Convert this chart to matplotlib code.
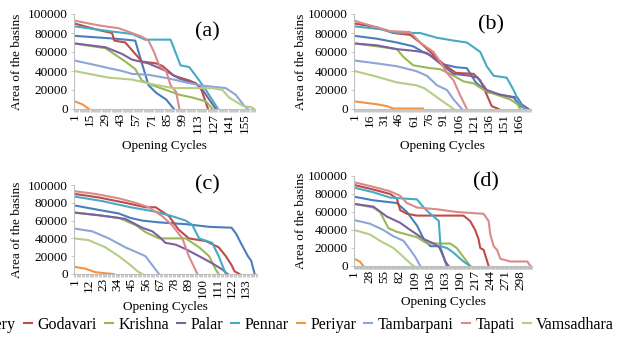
import matplotlib
matplotlib.use("Agg")
import matplotlib.pyplot as plt
from matplotlib.ticker import FixedLocator, NullFormatter

plt.rcParams['font.family'] = ['Liberation Serif', 'DejaVu Serif']

basins = ["Cauvery", "Godavari", "Krishna", "Palar", "Pennar", "Periyar",
          "Tambarpani", "Tapati", "Vamsadhara"]
colors = ["#4A7EBB", "#BE4B48", "#98B954", "#7D60A0", "#46AAC5", "#F69240",
          "#8EA5D8", "#DA8A89", "#B5CD86"]
y_ticks = [0, 20000, 40000, 60000, 80000, 100000]

# ---- panel (a) ----
a_n = 164
a_cycles = {
    "Cauvery": [1, 38, 56, 59, 68, 75, 84, 91],
    "Godavari": [1, 23, 35, 37, 47, 62, 75, 81, 91, 105, 111, 116, 122],
    "Krishna": [1, 29, 38, 47, 56, 62, 71.5, 84, 96, 108, 120, 126],
    "Palar": [1, 29, 44, 53, 68, 84, 96, 114, 123, 129],
    "Pennar": [1, 32, 53, 65, 88, 97, 105, 114, 120, 131],
    "Periyar": [1, 8, 14],
    "Tambarpani": [1, 17, 32, 44, 53, 68, 87, 102, 114, 138, 147, 155, 158],
    "Tapati": [1, 23, 41, 53, 62, 68, 73, 78, 84, 88, 93, 96],
    "Vamsadhara": [1, 14, 32, 53, 68, 81, 90, 126, 135, 141, 154, 161, 164],
}
a_area = {
    "Cauvery": [77000, 74000, 72000, 60000, 25000, 17000, 10000, 0],
    "Godavari": [90000, 83000, 80000, 72000, 70000, 50000, 48000, 45000, 35000, 30000, 27000, 20000, 0],
    "Krishna": [69000, 64000, 57000, 50000, 42000, 30000, 25000, 20000, 15000, 12000, 8000, 0],
    "Palar": [69000, 65000, 58000, 52000, 48000, 40000, 32000, 25000, 10000, 0],
    "Pennar": [87000, 82000, 79000, 73000, 73000, 46000, 44000, 30000, 20000, 0],
    "Periyar": [8000, 5000, 0],
    "Tambarpani": [51000, 47000, 43000, 40000, 37000, 36000, 32000, 28000, 25000, 22000, 15000, 3000, 0],
    "Tapati": [93000, 88000, 85000, 80000, 76000, 72000, 60000, 45000, 40000, 25000, 18000, 0],
    "Vamsadhara": [40000, 37000, 33000, 31000, 27000, 24000, 22000, 22000, 20000, 12000, 3000, 2000, 0],
}

# ---- panel (b) ----
b_n = 178
b_cycles = {
    "Cauvery": [1, 23.5, 43.6, 60, 70, 80.5, 90.6, 103, 114, 123, 134, 147.6, 161, 167.6, 174.5],
    "Godavari": [1, 23.5, 40, 57, 67, 80.5, 90.6, 103, 120.8, 127.5, 134, 139, 146],
    "Krishna": [1, 23.5, 43.6, 50, 60, 77, 87, 100.7, 110.7, 120.8, 131, 144, 157.7, 164.9, 167.6],
    "Palar": [1, 23.5, 43.6, 62.8, 73.8, 87, 100.7, 117, 124.8, 134, 147.6, 164.9, 169, 176],
    "Pennar": [1, 26.8, 43.6, 67, 83.9, 100.7, 114, 120.8, 127.5, 134, 140.9, 154, 161, 167.6, 172.8],
    "Periyar": [1, 23.5, 33.6, 40, 70],
    "Tambarpani": [1, 23.5, 43.6, 62.8, 73.8, 83.9, 94, 100.7, 109],
    "Tapati": [1, 10, 23.5, 36.9, 57, 67, 80.5, 87, 94, 100.7, 107, 114],
    "Vamsadhara": [1, 20, 43.6, 62.8, 71, 80.5, 87, 94, 100.7],
}
b_area = {
    "Cauvery": [77000, 74000, 70000, 66000, 60000, 55000, 47000, 44000, 43000, 28000, 18000, 15000, 12000, 3000, 0],
    "Godavari": [90000, 86000, 80000, 78000, 70000, 57000, 47000, 38000, 37000, 30000, 15000, 3000, 0],
    "Krishna": [69000, 66000, 63000, 55000, 46000, 43000, 42000, 35000, 29000, 27000, 20000, 15000, 10000, 5000, 0],
    "Palar": [69000, 67000, 63000, 61000, 59000, 48000, 37000, 35000, 33000, 20000, 15000, 12000, 5000, 0],
    "Pennar": [87000, 84000, 80000, 80000, 75000, 72000, 70000, 65000, 60000, 45000, 35000, 33000, 20000, 5000, 0],
    "Periyar": [8000, 5000, 3000, 500, 500],
    "Tambarpani": [51000, 48000, 45000, 40000, 35000, 25000, 20000, 10000, 0],
    "Tapati": [93000, 90000, 86000, 82000, 81000, 70000, 60000, 50000, 38000, 30000, 15000, 0],
    "Vamsadhara": [40000, 35000, 28000, 25000, 22000, 15000, 10000, 5000, 0],
}

# ---- panel (c) ----
c_n = 141
c_cycles = {
    "Cauvery": [1, 19.6, 35, 44, 53, 66, 86.6, 104.6, 121.9, 125.5, 129, 134.5, 137, 139.7],
    "Godavari": [1, 19.6, 40, 55.6, 63.4, 73.7, 81, 89, 102, 112, 117.5, 121.9, 124.2, 128],
    "Krishna": [1, 19.6, 35, 47.9, 55.6, 66, 86.6, 96.9, 104.6, 109.7, 112],
    "Palar": [1, 19.6, 40, 53, 60.8, 66, 71, 78.8, 86.6, 96.9, 107, 114.9, 118.8],
    "Pennar": [1, 22, 44, 63.4, 76, 86.6, 91.7, 96.9, 107, 112, 117.5],
    "Periyar": [1, 9.2, 17, 27.3, 31],
    "Tambarpani": [1, 14.4, 27.3, 40, 47.9, 55.6, 60.8, 66],
    "Tapati": [1, 17, 35, 47.9, 58, 68.5, 76, 84, 89, 95.6],
    "Vamsadhara": [1, 11.8, 24.7, 35, 44, 49.5, 53],
}
c_area = {
    "Cauvery": [77000, 72000, 68000, 63000, 60000, 58000, 56000, 53000, 52000, 45000, 35000, 20000, 15000, 0],
    "Godavari": [90000, 86000, 80000, 75000, 75000, 65000, 50000, 40000, 37000, 30000, 20000, 10000, 3000, 0],
    "Krishna": [69000, 66000, 63000, 55000, 47000, 40000, 40000, 30000, 20000, 5000, 0],
    "Palar": [69000, 66000, 62000, 52000, 48000, 42000, 35000, 33000, 28000, 20000, 12000, 5000, 0],
    "Pennar": [87000, 82000, 75000, 70000, 65000, 60000, 55000, 40000, 35000, 20000, 0],
    "Periyar": [8000, 6000, 2000, 500, 0],
    "Tambarpani": [51000, 48000, 40000, 30000, 25000, 20000, 10000, 0],
    "Tapati": [93000, 90000, 85000, 80000, 75000, 65000, 55000, 40000, 20000, 0],
    "Vamsadhara": [40000, 38000, 30000, 20000, 10000, 3000, 0],
}

# ---- panel (d) ----
d_n = 318
d_cycles = {
    "Cauvery": [1, 35, 77, 95, 113, 125, 137, 152, 160.5, 166.5],
    "Godavari": [1, 35, 65, 77, 83, 95, 113, 196, 208, 217, 223, 226, 232, 241],
    "Krishna": [1, 35, 47, 62, 77, 95, 113, 131, 172.4, 184, 202, 208],
    "Palar": [1, 35, 59, 83, 101, 125, 143, 155, 163.5, 169.5],
    "Pennar": [1, 35, 65, 113, 125, 137, 152, 155, 166.5, 178, 196, 208],
    "Periyar": [1, 11, 17],
    "Tambarpani": [1, 29, 53, 71, 89, 101, 110, 119],
    "Tapati": [1, 35, 65, 83, 95, 113, 149, 184, 232, 241, 244, 250, 256, 262, 280, 310, 316],
    "Vamsadhara": [1, 29, 47, 71, 89, 101, 107],
}
d_area = {
    "Cauvery": [77000, 73000, 70000, 60000, 45000, 30000, 22000, 22000, 10000, 0],
    "Godavari": [90000, 85000, 80000, 75000, 62000, 58000, 56000, 56000, 50000, 40000, 30000, 20000, 18000, 0],
    "Krishna": [69000, 65000, 60000, 42000, 38000, 35000, 32000, 25000, 25000, 20000, 5000, 0],
    "Palar": [69000, 66000, 55000, 48000, 40000, 30000, 25000, 20000, 5000, 0],
    "Pennar": [87000, 82000, 76000, 74000, 65000, 58000, 50000, 22000, 20000, 15000, 5000, 0],
    "Periyar": [8000, 5000, 0],
    "Tambarpani": [51000, 47000, 40000, 33000, 28000, 18000, 10000, 0],
    "Tapati": [93000, 88000, 83000, 78000, 70000, 65000, 63000, 60000, 58000, 50000, 35000, 22000, 18000, 8000, 5000, 5000, 0],
    "Vamsadhara": [40000, 35000, 28000, 20000, 10000, 3000, 0],
}

panels = [
    ("(a)", a_n, 14, a_cycles, a_area, [74, 14, 255, 109], (207, 32), -0.33),
    ("(b)", b_n, 15, b_cycles, b_area, [354, 14, 531, 109], (491, 25), -0.33),
    ("(c)", c_n, 11, c_cycles, c_area, [74, 185, 257, 274], (207, 185), -0.30),
    ("(d)", d_n, 27, d_cycles, d_area, [354, 176, 532, 266], (486, 182), -0.33),
]

W, H = 622, 341
fig = plt.figure(figsize=(W / 100, H / 100), dpi=100)
fs = 9.5
axis_gray = "#BFBFBF"

handles = []
for tag, n, step, cyc, area, box, tpos, xl_y in panels:
    l, t, r, b = box
    ax = fig.add_axes([l / W, 1 - b / H, (r - l) / W, (b - t) / H])
    for name, col in zip(basins, colors):
        ln, = ax.plot(cyc[name], area[name], color=col, lw=1.5, label=name,
                      solid_joinstyle='round')
        if tag == "(a)":
            handles.append(ln)
    ax.set_xlim(0.5, n + 0.5)
    ax.set_ylim(0, 100000)
    ax.set_yticks(y_ticks)
    ax.set_yticklabels([str(v) for v in y_ticks], fontsize=fs)
    ticks = list(range(1, n + 1, step))
    ax.set_xticks(ticks)
    ax.set_xticklabels([str(v) for v in ticks], rotation=90, fontsize=fs)
    ax.xaxis.set_minor_locator(FixedLocator([i + 0.5 for i in range(0, n + 1)]))
    ax.xaxis.set_minor_formatter(NullFormatter())
    ax.tick_params(axis='x', which='major', length=0, pad=3)
    ax.tick_params(axis='x', which='minor', length=2.5, width=0.6, color=axis_gray)
    ax.tick_params(axis='y', length=2.5, width=0.6, color=axis_gray, pad=2)
    for s in ("top", "right"):
        ax.spines[s].set_visible(False)
    for s in ("left", "bottom"):
        ax.spines[s].set_color(axis_gray)
        ax.spines[s].set_linewidth(0.8)
    ax.set_xlabel("Opening Cycles", fontsize=fs)
    ax.set_ylabel("Area of the basins", fontsize=fs)
    ax.xaxis.set_label_coords(0.5, xl_y)
    ax.yaxis.set_label_coords(-0.28 if l < 300 else -0.265, 0.5)
    fig.text(tpos[0] / W, 1 - tpos[1] / H, tag, fontsize=16, ha='center', va='center')

fig.legend(handles=handles, labels=basins, loc='center right',
           bbox_to_anchor=(614 / W, 1 - 325 / H), ncol=9, frameon=False,
           fontsize=11.5, handlelength=0.5, handletextpad=0.35,
           columnspacing=0.5, borderpad=0, borderaxespad=0)

fig.savefig("out.png", dpi=100)
